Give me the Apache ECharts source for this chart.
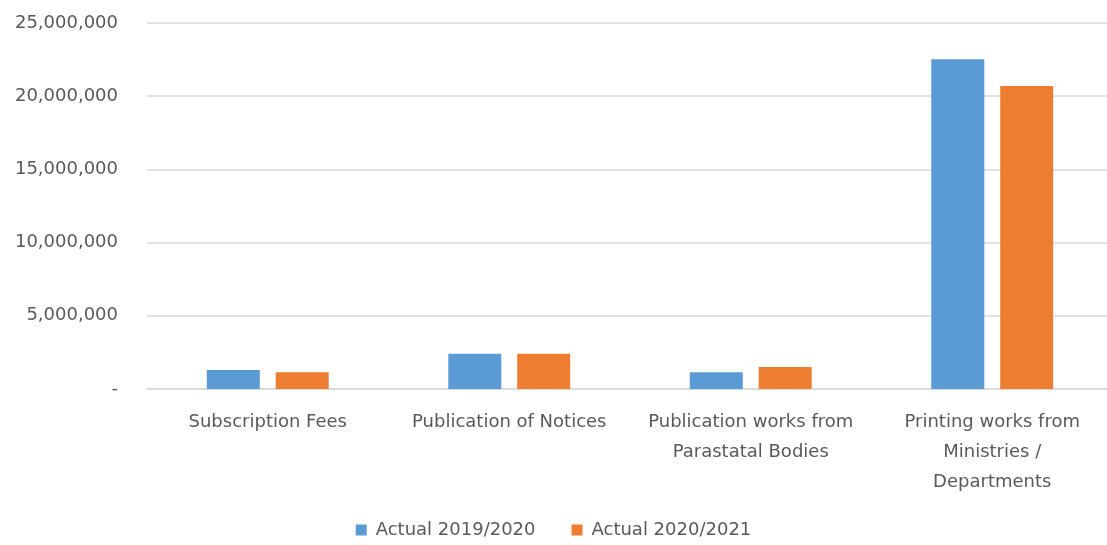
<!DOCTYPE html>
<html>
<head>
<meta charset="utf-8">
<script src="https://cdn.jsdelivr.net/npm/echarts@6/dist/echarts.min.js"></script>
<style>
  html, body { margin: 0; padding: 0; background: #fff; }
  #main { width: 1107px; height: 545px; }
</style>
</head>
<body>
<div id="main"></div>
<script>
// categories and values
var categories = [
  'Subscription Fees',
  'Publication of Notices',
  'Publication works from\nParastatal Bodies',
  'Printing works from\nMinistries /\nDepartments'
];
var actual2019 = [1300000, 2410000, 1140000, 22520000];
var actual2021 = [1140000, 2410000, 1500000, 20700000];
var seriesNames = ['Actual 2019/2020', 'Actual 2020/2021'];

var myChart = echarts.init(document.getElementById('main'));
var textColor = '#595959';
var font = 'DejaVu Sans';

myChart.setOption({
  animation: false,
  backgroundColor: '#fff',
  grid: { left: 147, right: -6, top: 23, bottom: 156, outerBoundsMode: 'none' },
  legend: {
    data: seriesNames,
    bottom: 1,
    left: 'center',
    itemWidth: 11,
    itemHeight: 11,
    itemGap: 36,
    icon: 'rect',
    textStyle: { color: textColor, fontSize: 18, fontFamily: font, padding: [0, 0, 0, 4] }
  },
  xAxis: {
    type: 'category',
    data: categories,
    axisLine: { lineStyle: { color: '#d9d9d9', width: 1.5 } },
    axisTick: { show: false },
    axisLabel: {
      interval: 0,
      color: textColor,
      fontSize: 18,
      fontFamily: font,
      lineHeight: 30,
      margin: 18
    }
  },
  yAxis: {
    type: 'value',
    min: 0,
    max: 25000000,
    interval: 5000000,
    axisLine: { show: false },
    axisTick: { show: false },
    splitLine: { lineStyle: { color: '#d9d9d9', width: 1.5 } },
    axisLabel: {
      color: textColor,
      fontSize: 18,
      fontFamily: font,
      margin: 29,
      formatter: function (v) {
        if (v === 0) return '-';
        return v.toLocaleString('en-US');
      }
    }
  },
  series: [{
      name: seriesNames[0],
      type: 'bar',
      data: actual2019,
      barWidth: 53,
      barGap: '30%',
      itemStyle: { color: '#5B9BD5' }
    },
    {
      name: seriesNames[1],
      type: 'bar',
      data: actual2021,
      barWidth: 53,
      itemStyle: { color: '#ED7D31' }
    }
  ]
});
</script>
</body>
</html>
